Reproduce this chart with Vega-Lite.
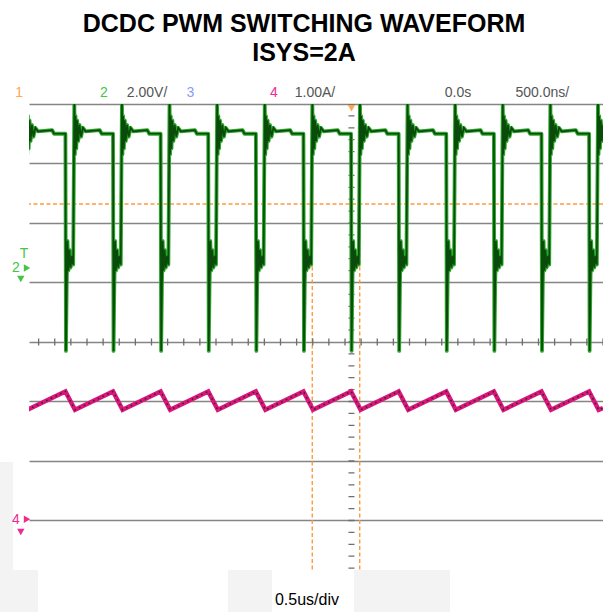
{
"$schema": "https://vega.github.io/schema/vega-lite/v6.json",
"width": 574, "height": 466,
"autosize": "none",
"padding": {"left": 29, "top": 104, "right": 0, "bottom": 42},
"background": "white",
"config": {"view": {"stroke": null}},
"title": {"text": ["DCDC PWM SWITCHING WAVEFORM", "ISYS=2A"], "font": "Liberation Sans", "fontSize": 25, "fontWeight": "bold", "color": "#000000", "anchor": "middle", "dx": -12, "offset": 0, "baseline": "alphabetic", "lineHeight": 29},
"datasets": {
"ch2": [
{"t":-2.5177,"v":5.6},{"t":-2.5137,"v":3.8},{"t":-2.5087,"v":5.1},{"t":-2.5027,"v":4.0},{"t":-2.4957,"v":4.95},{"t":-2.4877,"v":4.25},{"t":-2.4777,"v":4.8},{"t":-2.4657,"v":4.4},{"t":-2.4507,"v":4.7},{"t":-2.4307,"v":4.58},{"t":-2.3207,"v":4.62},{"t":-2.3057,"v":4.5},
{"t":-2.2176,"v":4.5},{"t":-2.2136,"v":-2.8},{"t":-2.2076,"v":-0.6},{"t":-2.2016,"v":0.9},{"t":-2.1946,"v":-0.1},{"t":-2.1866,"v":0.6},{"t":-2.1776,"v":0.0},{"t":-2.1676,"v":0.4},{"t":-2.1576,"v":0.1},
{"t":-2.1486,"v":5.6},{"t":-2.1446,"v":3.8},{"t":-2.1396,"v":5.1},{"t":-2.1336,"v":4.0},{"t":-2.1266,"v":4.95},{"t":-2.1186,"v":4.25},{"t":-2.1086,"v":4.8},{"t":-2.0966,"v":4.4},{"t":-2.0816,"v":4.7},{"t":-2.0616,"v":4.58},{"t":-1.9516,"v":4.62},{"t":-1.9366,"v":4.5},
{"t":-1.8486,"v":4.5},{"t":-1.8446,"v":-2.8},{"t":-1.8386,"v":-0.6},{"t":-1.8326,"v":0.9},{"t":-1.8256,"v":-0.1},{"t":-1.8176,"v":0.6},{"t":-1.8086,"v":0.0},{"t":-1.7986,"v":0.4},{"t":-1.7886,"v":0.1},
{"t":-1.7796,"v":5.6},{"t":-1.7756,"v":3.8},{"t":-1.7706,"v":5.1},{"t":-1.7646,"v":4.0},{"t":-1.7576,"v":4.95},{"t":-1.7496,"v":4.25},{"t":-1.7396,"v":4.8},{"t":-1.7276,"v":4.4},{"t":-1.7126,"v":4.7},{"t":-1.6926,"v":4.58},{"t":-1.5826,"v":4.62},{"t":-1.5676,"v":4.5},
{"t":-1.4795,"v":4.5},{"t":-1.4755,"v":-2.8},{"t":-1.4695,"v":-0.6},{"t":-1.4635,"v":0.9},{"t":-1.4565,"v":-0.1},{"t":-1.4485,"v":0.6},{"t":-1.4395,"v":0.0},{"t":-1.4295,"v":0.4},{"t":-1.4195,"v":0.1},
{"t":-1.4105,"v":5.6},{"t":-1.4065,"v":3.8},{"t":-1.4015,"v":5.1},{"t":-1.3955,"v":4.0},{"t":-1.3885,"v":4.95},{"t":-1.3805,"v":4.25},{"t":-1.3705,"v":4.8},{"t":-1.3585,"v":4.4},{"t":-1.3435,"v":4.7},{"t":-1.3235,"v":4.58},{"t":-1.2135,"v":4.62},{"t":-1.1985,"v":4.5},
{"t":-1.1104,"v":4.5},{"t":-1.1064,"v":-2.8},{"t":-1.1004,"v":-0.6},{"t":-1.0944,"v":0.9},{"t":-1.0874,"v":-0.1},{"t":-1.0794,"v":0.6},{"t":-1.0704,"v":0.0},{"t":-1.0604,"v":0.4},{"t":-1.0504,"v":0.1},
{"t":-1.0414,"v":5.6},{"t":-1.0374,"v":3.8},{"t":-1.0324,"v":5.1},{"t":-1.0264,"v":4.0},{"t":-1.0194,"v":4.95},{"t":-1.0114,"v":4.25},{"t":-1.0014,"v":4.8},{"t":-0.9894,"v":4.4},{"t":-0.9744,"v":4.7},{"t":-0.9544,"v":4.58},{"t":-0.8444,"v":4.62},{"t":-0.8294,"v":4.5},
{"t":-0.7413,"v":4.5},{"t":-0.7373,"v":-2.8},{"t":-0.7313,"v":-0.6},{"t":-0.7253,"v":0.9},{"t":-0.7183,"v":-0.1},{"t":-0.7103,"v":0.6},{"t":-0.7013,"v":0.0},{"t":-0.6913,"v":0.4},{"t":-0.6813,"v":0.1},
{"t":-0.6723,"v":5.6},{"t":-0.6683,"v":3.8},{"t":-0.6633,"v":5.1},{"t":-0.6573,"v":4.0},{"t":-0.6503,"v":4.95},{"t":-0.6423,"v":4.25},{"t":-0.6323,"v":4.8},{"t":-0.6203,"v":4.4},{"t":-0.6053,"v":4.7},{"t":-0.5853,"v":4.58},{"t":-0.4753,"v":4.62},{"t":-0.4603,"v":4.5},
{"t":-0.3723,"v":4.5},{"t":-0.3683,"v":-2.8},{"t":-0.3623,"v":-0.6},{"t":-0.3563,"v":0.9},{"t":-0.3493,"v":-0.1},{"t":-0.3413,"v":0.6},{"t":-0.3323,"v":0.0},{"t":-0.3223,"v":0.4},{"t":-0.3123,"v":0.1},
{"t":-0.3033,"v":5.6},{"t":-0.2993,"v":3.8},{"t":-0.2943,"v":5.1},{"t":-0.2883,"v":4.0},{"t":-0.2813,"v":4.95},{"t":-0.2733,"v":4.25},{"t":-0.2633,"v":4.8},{"t":-0.2513,"v":4.4},{"t":-0.2363,"v":4.7},{"t":-0.2163,"v":4.58},{"t":-0.1063,"v":4.62},{"t":-0.0913,"v":4.5},
{"t":-0.0032,"v":4.5},{"t":0.0008,"v":-2.8},{"t":0.0068,"v":-0.6},{"t":0.0128,"v":0.9},{"t":0.0198,"v":-0.1},{"t":0.0278,"v":0.6},{"t":0.0368,"v":0.0},{"t":0.0468,"v":0.4},{"t":0.0568,"v":0.1},
{"t":0.0658,"v":5.6},{"t":0.0698,"v":3.8},{"t":0.0748,"v":5.1},{"t":0.0808,"v":4.0},{"t":0.0878,"v":4.95},{"t":0.0958,"v":4.25},{"t":0.1058,"v":4.8},{"t":0.1178,"v":4.4},{"t":0.1328,"v":4.7},{"t":0.1528,"v":4.58},{"t":0.2628,"v":4.62},{"t":0.2778,"v":4.5},
{"t":0.3659,"v":4.5},{"t":0.3699,"v":-2.8},{"t":0.3759,"v":-0.6},{"t":0.3819,"v":0.9},{"t":0.3889,"v":-0.1},{"t":0.3969,"v":0.6},{"t":0.4059,"v":0.0},{"t":0.4159,"v":0.4},{"t":0.4259,"v":0.1},
{"t":0.4349,"v":5.6},{"t":0.4389,"v":3.8},{"t":0.4439,"v":5.1},{"t":0.4499,"v":4.0},{"t":0.4569,"v":4.95},{"t":0.4649,"v":4.25},{"t":0.4749,"v":4.8},{"t":0.4869,"v":4.4},{"t":0.5019,"v":4.7},{"t":0.5219,"v":4.58},{"t":0.6319,"v":4.62},{"t":0.6469,"v":4.5},
{"t":0.7349,"v":4.5},{"t":0.7389,"v":-2.8},{"t":0.7449,"v":-0.6},{"t":0.7509,"v":0.9},{"t":0.7579,"v":-0.1},{"t":0.7659,"v":0.6},{"t":0.7749,"v":0.0},{"t":0.7849,"v":0.4},{"t":0.7949,"v":0.1},
{"t":0.8039,"v":5.6},{"t":0.8079,"v":3.8},{"t":0.8129,"v":5.1},{"t":0.8189,"v":4.0},{"t":0.8259,"v":4.95},{"t":0.8339,"v":4.25},{"t":0.8439,"v":4.8},{"t":0.8559,"v":4.4},{"t":0.8709,"v":4.7},{"t":0.8909,"v":4.58},{"t":1.0009,"v":4.62},{"t":1.0159,"v":4.5},
{"t":1.1040,"v":4.5},{"t":1.1080,"v":-2.8},{"t":1.1140,"v":-0.6},{"t":1.1200,"v":0.9},{"t":1.1270,"v":-0.1},{"t":1.1350,"v":0.6},{"t":1.1440,"v":0.0},{"t":1.1540,"v":0.4},{"t":1.1640,"v":0.1},
{"t":1.1730,"v":5.6},{"t":1.1770,"v":3.8},{"t":1.1820,"v":5.1},{"t":1.1880,"v":4.0},{"t":1.1950,"v":4.95},{"t":1.2030,"v":4.25},{"t":1.2130,"v":4.8},{"t":1.2250,"v":4.4},{"t":1.2400,"v":4.7},{"t":1.2600,"v":4.58},{"t":1.3700,"v":4.62},{"t":1.3850,"v":4.5},
{"t":1.4731,"v":4.5},{"t":1.4771,"v":-2.8},{"t":1.4831,"v":-0.6},{"t":1.4891,"v":0.9},{"t":1.4961,"v":-0.1},{"t":1.5041,"v":0.6},{"t":1.5131,"v":0.0},{"t":1.5231,"v":0.4},{"t":1.5331,"v":0.1},
{"t":1.5421,"v":5.6},{"t":1.5461,"v":3.8},{"t":1.5511,"v":5.1},{"t":1.5571,"v":4.0},{"t":1.5641,"v":4.95},{"t":1.5721,"v":4.25},{"t":1.5821,"v":4.8},{"t":1.5941,"v":4.4},{"t":1.6091,"v":4.7},{"t":1.6291,"v":4.58},{"t":1.7391,"v":4.62},{"t":1.7541,"v":4.5},
{"t":1.8422,"v":4.5},{"t":1.8462,"v":-2.8},{"t":1.8522,"v":-0.6},{"t":1.8582,"v":0.9},{"t":1.8652,"v":-0.1},{"t":1.8732,"v":0.6},{"t":1.8822,"v":0.0},{"t":1.8922,"v":0.4},{"t":1.9022,"v":0.1},
{"t":1.9112,"v":5.6},{"t":1.9152,"v":3.8},{"t":1.9202,"v":5.1},{"t":1.9262,"v":4.0},{"t":1.9332,"v":4.95},{"t":1.9412,"v":4.25},{"t":1.9512,"v":4.8},{"t":1.9632,"v":4.4},{"t":1.9782,"v":4.7},{"t":1.9982,"v":4.58}
],
"ch4": [
{"t":-2.5127,"a":1.86},
{"t":-2.2176,"a":2.17},{"t":-2.1436,"a":1.86},
{"t":-1.8486,"a":2.17},{"t":-1.7746,"a":1.86},
{"t":-1.4795,"a":2.17},{"t":-1.4055,"a":1.86},
{"t":-1.1104,"a":2.17},{"t":-1.0364,"a":1.86},
{"t":-0.7413,"a":2.17},{"t":-0.6673,"a":1.86},
{"t":-0.3723,"a":2.17},{"t":-0.2983,"a":1.86},
{"t":-0.0032,"a":2.17},{"t":0.0708,"a":1.86},
{"t":0.3659,"a":2.17},{"t":0.4399,"a":1.86},
{"t":0.7349,"a":2.17},{"t":0.8089,"a":1.86},
{"t":1.1040,"a":2.17},{"t":1.1780,"a":1.86},
{"t":1.4731,"a":2.17},{"t":1.5471,"a":1.86},
{"t":1.8422,"a":2.17},{"t":1.9162,"a":1.86},
{"t":1.9500,"a":1.89}
],
"labels": [
{"t":-2.5764,"d":4.19,"label":"1","ch":"ch1"},
{"t":-1.920,"d":4.19,"label":"2","ch":"ch2"},
{"t":-1.5845,"d":4.19,"label":"2.00V/","ch":"info"},
{"t":-1.249,"d":4.19,"label":"3","ch":"ch3"},
{"t":-0.6021,"d":4.19,"label":"4","ch":"ch4"},
{"t":-0.2829,"d":4.19,"label":"1.00A/","ch":"info"},
{"t":0.8262,"d":4.19,"label":"0.0s","ch":"info"},
{"t":1.4791,"d":4.19,"label":"500.0ns/","ch":"info"},
{"t":-2.602,"d":1.244,"label":"2","ch":"ch2"},
{"t":-2.539,"d":1.479,"label":"T","ch":"ch2"},
{"t":-2.602,"d":-2.992,"label":"4","ch":"ch4"}
],
"markers": [
{"t":0.0,"d":3.93,"shape":"triangle-down","ch":"ch1"},
{"t":-2.5155,"d":1.244,"shape":"triangle-right","ch":"ch2"},
{"t":-2.5636,"d":1.059,"shape":"triangle-down","ch":"ch2"},
{"t":-2.5155,"d":-2.98,"shape":"triangle-right","ch":"ch4"},
{"t":-2.5636,"d":-3.193,"shape":"triangle-down","ch":"ch4"}
],
"patches": [
{"t0":-2.7248,"t1":-2.624,"d0":-2.017,"d1":-3.832},
{"t0":-2.7248,"t1":-2.4302,"d0":-3.832,"d1":-4.54},
{"t0":-0.9574,"t1":-0.6163,"d0":-3.832,"d1":-4.54},
{"t0":0.0194,"t1":0.7636,"d0":-3.832,"d1":-4.54}
]
},
"layer": [
{"data": {"name": "patches"},
 "mark": {"type": "rect", "color": "#f3f3f3", "clip": false},
 "encoding": {"x": {"field": "t0", "type": "quantitative", "scale": {"domain": [-2.5, 1.95], "nice": false, "zero": false},
   "axis": {"grid": true, "values": [-2.5,-2,-1.5,-1,-0.5,0.5,1,1.5], "labels": false, "ticks": false, "domain": false, "gridColor": "#858585", "gridWidth": 1.6, "gridOpacity": 1, "title": null}},
   "x2": {"field": "t1"},
   "y": {"field": "d0", "type": "quantitative", "scale": {"domain": [-3.832, 4], "nice": false, "zero": false},
   "axis": {"grid": true, "values": [-3,-2,-1,0,1,2,3,4], "labels": false, "ticks": false, "domain": false, "title": null, "gridColor": "#858585", "gridWidth": 1.6, "gridOpacity": 1}},
   "y2": {"field": "d1"}}},
{"data": {"values": [{"t": -0.304}, {"t": 0.064}]},
 "mark": {"type": "rule", "color": "#ff9a3c", "strokeWidth": 1.4, "strokeDash": [4, 2.5]},
 "encoding": {"x": {"field": "t", "type": "quantitative", "scale": {"domain": [-2.5, 1.95], "nice": false, "zero": false}, "axis": null}}},
{"data": {"values": [{"d": 2.319}]},
 "mark": {"type": "rule", "color": "#ff9a3c", "strokeWidth": 1.4, "strokeDash": [4, 2.5]},
 "encoding": {"y": {"field": "d", "type": "quantitative", "scale": {"domain": [-3.832, 4], "nice": false, "zero": false}, "axis": null}}},
{"data": {"values": [{"t": 0}]},
 "mark": {"type": "rule", "color": "#6e6e6e", "strokeWidth": 6, "strokeDash": [1.3, 10.6], "strokeDashOffset": 0.65},
 "encoding": {"x": {"field": "t", "type": "quantitative", "scale": {"domain": [-2.5, 1.95], "nice": false, "zero": false}, "axis": null}}},
{"data": {"values": [{"d": 0}]},
 "mark": {"type": "rule", "color": "#6e6e6e", "strokeWidth": 7, "strokeDash": [1.3, 14.825], "strokeDashOffset": 0.65},
 "encoding": {"y": {"field": "d", "type": "quantitative", "scale": {"domain": [-3.832, 4], "nice": false, "zero": false}, "axis": null}}},
{"data": {"name": "ch2"},
 "mark": {"type": "line", "color": "#2ca82c", "strokeWidth": 3.8, "clip": true, "strokeJoin": "round"},
 "encoding": {"x": {"field": "t", "type": "quantitative", "scale": {"domain": [-2.5, 1.95], "nice": false, "zero": false}, "axis": null},
   "y": {"field": "v", "type": "quantitative", "scale": {"domain": [-10.164, 5.5], "nice": false, "zero": false}, "axis": null}}},
{"data": {"name": "ch2"},
 "mark": {"type": "line", "color": "#0a4a0a", "strokeWidth": 1.7, "clip": true},
 "encoding": {"x": {"field": "t", "type": "quantitative", "scale": {"domain": [-2.5, 1.95], "nice": false, "zero": false}, "axis": null},
   "y": {"field": "v", "type": "quantitative", "scale": {"domain": [-10.164, 5.5], "nice": false, "zero": false}, "axis": null}}},
{"data": {"name": "ch4"},
 "mark": {"type": "line", "color": "#dc157c", "strokeWidth": 4.5, "clip": true},
 "encoding": {"x": {"field": "t", "type": "quantitative", "scale": {"domain": [-2.5, 1.95], "nice": false, "zero": false}, "axis": null},
   "y": {"field": "a", "type": "quantitative", "scale": {"domain": [-0.832, 7], "nice": false, "zero": false}, "axis": null}}},
{"data": {"name": "ch4"},
 "mark": {"type": "line", "color": "#2a2a2a", "strokeWidth": 1.5, "strokeDash": [1.6, 3.6], "clip": true},
 "encoding": {"x": {"field": "t", "type": "quantitative", "scale": {"domain": [-2.5, 1.95], "nice": false, "zero": false}, "axis": null},
   "y": {"field": "a", "type": "quantitative", "scale": {"domain": [-0.832, 7], "nice": false, "zero": false}, "axis": null}}},
{"data": {"name": "labels"},
 "mark": {"type": "text", "font": "Liberation Sans", "fontSize": 14, "align": "center", "baseline": "middle", "clip": false},
 "encoding": {"x": {"field": "t", "type": "quantitative", "scale": {"domain": [-2.5, 1.95], "nice": false, "zero": false}, "axis": null},
   "y": {"field": "d", "type": "quantitative", "scale": {"domain": [-3.832, 4], "nice": false, "zero": false}, "axis": null},
   "text": {"field": "label"},
   "color": {"field": "ch", "type": "nominal", "scale": {"domain": ["ch1","ch2","ch3","ch4","info"], "range": ["#ffa84f","#45c445","#8a9cf5","#f02a8e","#555555"]}, "legend": null}}},
{"data": {"values": [{"t": -0.345, "d": -4.336, "label": "0.5us/div"}]},
 "mark": {"type": "text", "font": "Liberation Sans", "fontSize": 16, "align": "center", "baseline": "middle", "color": "#000000", "clip": false},
 "encoding": {"x": {"field": "t", "type": "quantitative", "scale": {"domain": [-2.5, 1.95], "nice": false, "zero": false}, "axis": null},
   "y": {"field": "d", "type": "quantitative", "scale": {"domain": [-3.832, 4], "nice": false, "zero": false}, "axis": null},
   "text": {"field": "label"}}},
{"data": {"name": "markers"},
 "mark": {"type": "point", "filled": true, "size": 55, "opacity": 1, "clip": false},
 "encoding": {"x": {"field": "t", "type": "quantitative", "scale": {"domain": [-2.5, 1.95], "nice": false, "zero": false}, "axis": null},
   "y": {"field": "d", "type": "quantitative", "scale": {"domain": [-3.832, 4], "nice": false, "zero": false}, "axis": null},
   "shape": {"field": "shape", "type": "nominal", "scale": null},
   "color": {"field": "ch", "type": "nominal", "scale": {"domain": ["ch1","ch2","ch3","ch4","info"], "range": ["#ffa84f","#45c445","#8a9cf5","#f02a8e","#555555"]}, "legend": null}}}
],
"resolve": {"scale": {"y": "independent"}}
}
